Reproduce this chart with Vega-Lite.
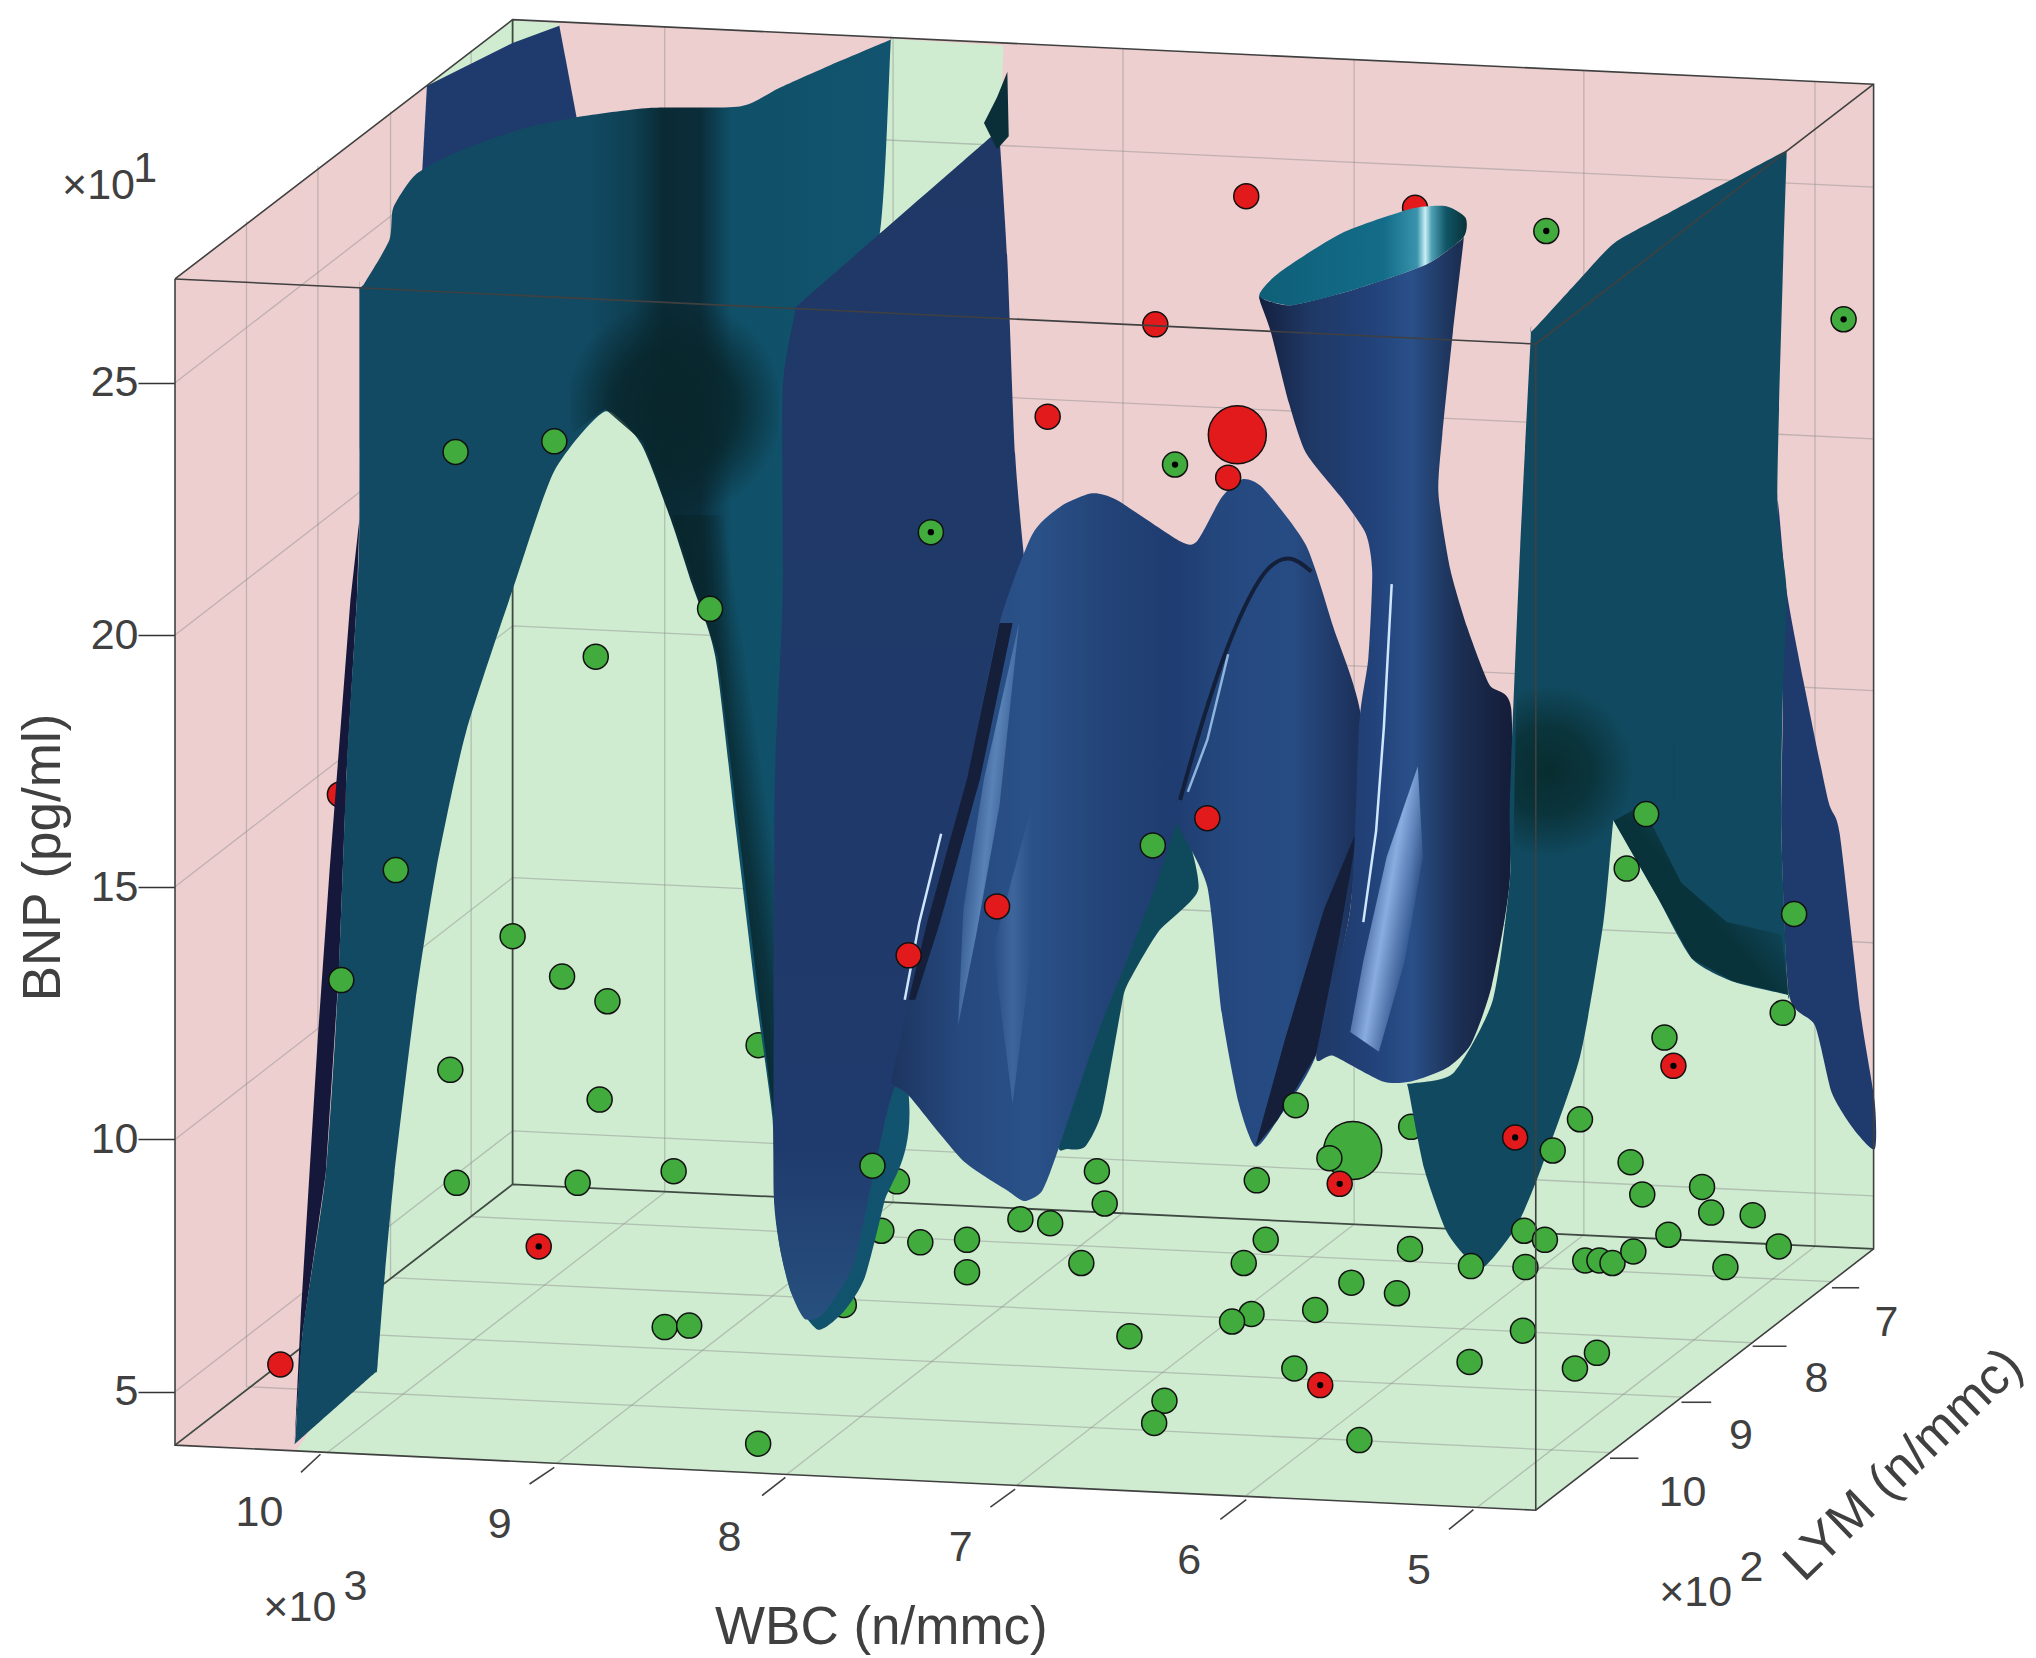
{"$schema":"https://vega.github.io/schema/vega-lite/v6.json","width":1861,"height":1658,"padding":{"left":175,"top":0,"right":0,"bottom":0},"autosize":"none","background":"white","view":{"stroke":null},"config":{"font":"Liberation Sans"},
"datasets":{
"surface":[
{"part":"pink","wbc":10.567,"bnp":27.06},{"part":"pink","wbc":9.093,"bnp":32.2},{"part":"pink","wbc":3.151,"bnp":30.92},{"part":"pink","wbc":3.151,"bnp":7.83},{"part":"pink","wbc":4.626,"bnp":2.65},{"part":"pink","wbc":10.567,"bnp":3.94},
{"part":"floor","wbc":10.04,"bnp":3.81},{"part":"floor","wbc":4.626,"bnp":2.65},{"part":"floor","wbc":3.151,"bnp":7.83},{"part":"floor","wbc":3.151,"bnp":9.94},{"part":"floor","wbc":3.395,"bnp":12.77},{"part":"floor","wbc":3.792,"bnp":13.8},{"part":"floor","wbc":4.132,"bnp":15.34},{"part":"floor","wbc":4.302,"bnp":16.89},{"part":"floor","wbc":4.727,"bnp":15.86},{"part":"floor","wbc":5.096,"bnp":16.63},{"part":"floor","wbc":5.379,"bnp":17.15},{"part":"floor","wbc":5.89,"bnp":18.18},{"part":"floor","wbc":6.797,"bnp":18.18},{"part":"floor","wbc":7.704,"bnp":17.15},{"part":"floor","wbc":8.271,"bnp":22.29},{"part":"floor","wbc":8.69,"bnp":24.87},{"part":"floor","wbc":9.064,"bnp":22.29},{"part":"floor","wbc":9.461,"bnp":17.15},{"part":"floor","wbc":9.631,"bnp":12.0},{"part":"floor","wbc":9.745,"bnp":5.82},
{"part":"topmid","wbc":7.443,"bnp":31.82},{"part":"topmid","wbc":6.95,"bnp":31.69},{"part":"topmid","wbc":6.967,"bnp":29.5},{"part":"topmid","wbc":7.5,"bnp":27.44},
{"part":"topleft","wbc":9.467,"bnp":30.89},{"part":"topleft","wbc":9.093,"bnp":32.2},{"part":"topleft","wbc":8.889,"bnp":32.13},{"part":"topleft","wbc":8.951,"bnp":31.56},{"part":"topleft","wbc":9.405,"bnp":30.79},
{"part":"navyback","wbc":9.467,"bnp":30.89},{"part":"navyback","wbc":9.093,"bnp":31.74},{"part":"navyback","wbc":8.889,"bnp":32.08},{"part":"navyback","wbc":8.809,"bnp":30.15},{"part":"navyback","wbc":8.809,"bnp":29.24},{"part":"navyback","wbc":9.49,"bnp":28.09},{"part":"navyback","wbc":9.49,"bnp":29.0},
{"part":"sliver","wbc":9.762,"bnp":22.29},{"part":"sliver","wbc":9.801,"bnp":20.7},{"part":"sliver","wbc":9.892,"bnp":15.34},{"part":"sliver","wbc":9.943,"bnp":12.05},{"part":"sliver","wbc":10.017,"bnp":6.59},{"part":"sliver","wbc":10.045,"bnp":3.97},{"part":"sliver","wbc":10.011,"bnp":6.13},{"part":"sliver","wbc":9.909,"bnp":9.32},{"part":"sliver","wbc":9.852,"bnp":13.31},{"part":"sliver","wbc":9.818,"bnp":17.27},{"part":"sliver","wbc":9.773,"bnp":20.7},
{"part":"teal","wbc":9.762,"bnp":26.78},{"part":"teal","wbc":9.762,"bnp":26.88},{"part":"teal","wbc":9.739,"bnp":26.98},{"part":"teal","wbc":9.631,"bnp":27.83},{"part":"teal","wbc":9.614,"bnp":28.47},{"part":"teal","wbc":9.518,"bnp":29.12},{"part":"teal","wbc":9.348,"bnp":29.55},{"part":"teal","wbc":9.064,"bnp":30.02},{"part":"teal","wbc":8.809,"bnp":30.27},{"part":"teal","wbc":8.497,"bnp":30.45},{"part":"teal","wbc":8.101,"bnp":30.48},{"part":"teal","wbc":7.931,"bnp":30.84},{"part":"teal","wbc":7.704,"bnp":31.3},{"part":"teal","wbc":7.454,"bnp":31.78},{"part":"teal","wbc":7.443,"bnp":31.82},{"part":"teal","wbc":7.443,"bnp":31.69},{"part":"teal","wbc":7.494,"bnp":27.83},{"part":"teal","wbc":7.704,"bnp":25.9},{"part":"teal","wbc":7.704,"bnp":20.75},{"part":"teal","wbc":7.364,"bnp":10.89},{"part":"teal","wbc":7.471,"bnp":8.75},{"part":"teal","wbc":7.556,"bnp":7.26},{"part":"teal","wbc":7.647,"bnp":6.59},{"part":"teal","wbc":7.761,"bnp":6.23},{"part":"teal","wbc":7.874,"bnp":6.93},{"part":"teal","wbc":7.925,"bnp":7.83},{"part":"teal","wbc":7.948,"bnp":8.75},{"part":"teal","wbc":7.959,"bnp":10.45},{"part":"teal","wbc":8.027,"bnp":12.72},{"part":"teal","wbc":8.118,"bnp":16.14},{"part":"teal","wbc":8.208,"bnp":19.57},{"part":"teal","wbc":8.31,"bnp":21.01},{"part":"teal","wbc":8.407,"bnp":22.35},{"part":"teal","wbc":8.532,"bnp":23.79},{"part":"teal","wbc":8.69,"bnp":24.43},{"part":"teal","wbc":8.911,"bnp":23.25},{"part":"teal","wbc":9.081,"bnp":21.06},{"part":"teal","wbc":9.297,"bnp":18.07},{"part":"teal","wbc":9.427,"bnp":15.34},{"part":"teal","wbc":9.518,"bnp":12.72},{"part":"teal","wbc":9.609,"bnp":9.32},{"part":"teal","wbc":9.654,"bnp":7.16},{"part":"teal","wbc":9.682,"bnp":5.56},{"part":"teal","wbc":9.688,"bnp":5.38},{"part":"teal","wbc":9.705,"bnp":5.33},{"part":"teal","wbc":10.017,"bnp":4.07},{"part":"teal","wbc":10.045,"bnp":3.97},{"part":"teal","wbc":10.04,"bnp":4.15},{"part":"teal","wbc":10.011,"bnp":6.13},{"part":"teal","wbc":9.909,"bnp":9.32},{"part":"teal","wbc":9.852,"bnp":13.31},{"part":"teal","wbc":9.818,"bnp":17.27},{"part":"teal","wbc":9.773,"bnp":20.7},{"part":"teal","wbc":9.762,"bnp":22.29},
{"part":"archdark","wbc":8.838,"bnp":26.67},{"part":"archdark","wbc":7.931,"bnp":26.67},{"part":"archdark","wbc":7.931,"bnp":22.35},{"part":"archdark","wbc":8.397,"bnp":22.38},{"part":"archdark","wbc":8.524,"bnp":23.83},{"part":"archdark","wbc":8.69,"bnp":24.48},{"part":"archdark","wbc":8.838,"bnp":23.97},
{"part":"archstrip","wbc":8.397,"bnp":22.38},{"part":"archstrip","wbc":7.987,"bnp":22.38},{"part":"archstrip","wbc":7.862,"bnp":10.45},{"part":"archstrip","wbc":7.948,"bnp":8.75},{"part":"archstrip","wbc":7.953,"bnp":10.45},{"part":"archstrip","wbc":8.016,"bnp":12.72},{"part":"archstrip","wbc":8.106,"bnp":16.14},{"part":"archstrip","wbc":8.197,"bnp":19.57},{"part":"archstrip","wbc":8.299,"bnp":21.01},
{"part":"navy","wbc":7.862,"bnp":26.36},{"part":"navy","wbc":7.862,"bnp":26.49},{"part":"navy","wbc":7.828,"bnp":26.62},{"part":"navy","wbc":6.989,"bnp":29.94},{"part":"navy","wbc":6.967,"bnp":30.02},{"part":"navy","wbc":6.967,"bnp":29.89},{"part":"navy","wbc":6.933,"bnp":27.44},{"part":"navy","wbc":6.899,"bnp":23.58},{"part":"navy","wbc":6.853,"bnp":21.26},{"part":"navy","wbc":6.797,"bnp":19.72},{"part":"navy","wbc":6.91,"bnp":15.86},{"part":"navy","wbc":7.25,"bnp":12.0},{"part":"navy","wbc":7.426,"bnp":11.02},{"part":"navy","wbc":7.517,"bnp":9.32},{"part":"navy","wbc":7.607,"bnp":7.49},{"part":"navy","wbc":7.738,"bnp":6.54},{"part":"navy","wbc":7.817,"bnp":6.44},{"part":"navy","wbc":7.874,"bnp":6.93},{"part":"navy","wbc":7.925,"bnp":7.83},{"part":"navy","wbc":7.953,"bnp":8.91},{"part":"navy","wbc":7.953,"bnp":12.0},{"part":"navy","wbc":7.948,"bnp":17.15},{"part":"navy","wbc":7.914,"bnp":20.75},{"part":"navy","wbc":7.914,"bnp":24.87},
{"part":"spot","wbc":7.035,"bnp":30.15},{"part":"spot","wbc":6.978,"bnp":30.66},{"part":"spot","wbc":6.933,"bnp":31.17},{"part":"spot","wbc":6.927,"bnp":29.89},{"part":"spot","wbc":6.978,"bnp":29.63},
{"part":"patch","wbc":6.672,"bnp":9.81},{"part":"patch","wbc":6.593,"bnp":9.86},{"part":"patch","wbc":6.519,"bnp":10.56},{"part":"patch","wbc":6.44,"bnp":12.51},{"part":"patch","wbc":6.411,"bnp":13.05},{"part":"patch","wbc":6.275,"bnp":14.11},{"part":"patch","wbc":6.099,"bnp":14.96},{"part":"patch","wbc":6.179,"bnp":16.32},{"part":"patch","wbc":6.343,"bnp":15.6},{"part":"patch","wbc":6.547,"bnp":12.26},{"part":"patch","wbc":6.706,"bnp":9.94},
{"part":"blue","wbc":7.409,"bnp":11.02},{"part":"blue","wbc":7.437,"bnp":11.1},{"part":"blue","wbc":7.437,"bnp":11.23},{"part":"blue","wbc":7.409,"bnp":11.82},{"part":"blue","wbc":7.284,"bnp":14.29},{"part":"blue","wbc":7.109,"bnp":17.15},{"part":"blue","wbc":6.967,"bnp":20.24},{"part":"blue","wbc":6.825,"bnp":21.99},{"part":"blue","wbc":6.7,"bnp":22.55},{"part":"blue","wbc":6.564,"bnp":22.81},{"part":"blue","wbc":6.457,"bnp":22.68},{"part":"blue","wbc":6.179,"bnp":21.86},{"part":"blue","wbc":6.105,"bnp":21.86},{"part":"blue","wbc":5.997,"bnp":22.73},{"part":"blue","wbc":5.907,"bnp":23.09},{"part":"blue","wbc":5.816,"bnp":22.91},{"part":"blue","wbc":5.629,"bnp":21.78},{"part":"blue","wbc":5.51,"bnp":20.16},{"part":"blue","wbc":5.385,"bnp":18.23},{"part":"blue","wbc":5.436,"bnp":14.57},{"part":"blue","wbc":5.584,"bnp":11.69},{"part":"blue","wbc":5.754,"bnp":10.38},{"part":"blue","wbc":5.85,"bnp":9.86},{"part":"blue","wbc":5.924,"bnp":10.74},{"part":"blue","wbc":5.997,"bnp":12.51},{"part":"blue","wbc":6.06,"bnp":15.01},{"part":"blue","wbc":6.185,"bnp":16.19},{"part":"blue","wbc":6.196,"bnp":16.32},{"part":"blue","wbc":6.202,"bnp":16.19},{"part":"blue","wbc":6.275,"bnp":15.16},{"part":"blue","wbc":6.394,"bnp":13.75},{"part":"blue","wbc":6.547,"bnp":12.0},{"part":"blue","wbc":6.706,"bnp":9.86},{"part":"blue","wbc":6.78,"bnp":8.99},{"part":"blue","wbc":6.859,"bnp":8.78},{"part":"blue","wbc":6.933,"bnp":8.99},{"part":"blue","wbc":7.131,"bnp":9.6},{"part":"blue","wbc":7.358,"bnp":10.84},
{"part":"fold1","wbc":6.967,"bnp":20.24},{"part":"fold1","wbc":7.109,"bnp":17.15},{"part":"fold1","wbc":7.284,"bnp":14.29},{"part":"fold1","wbc":7.364,"bnp":12.77},{"part":"fold1","wbc":7.335,"bnp":12.77},{"part":"fold1","wbc":7.228,"bnp":14.29},{"part":"fold1","wbc":7.052,"bnp":17.15},{"part":"fold1","wbc":6.91,"bnp":20.24},
{"part":"glow1","wbc":6.882,"bnp":20.24},{"part":"glow1","wbc":6.967,"bnp":16.63},{"part":"glow1","wbc":7.069,"bnp":14.06},{"part":"glow1","wbc":7.148,"bnp":12.26},{"part":"glow1","wbc":7.125,"bnp":14.57},{"part":"glow1","wbc":7.035,"bnp":17.15},
{"part":"glow3","wbc":6.825,"bnp":16.63},{"part":"glow3","wbc":6.825,"bnp":13.8},{"part":"glow3","wbc":6.91,"bnp":10.71},{"part":"glow3","wbc":6.995,"bnp":13.8},
{"part":"fold2","wbc":5.385,"bnp":18.23},{"part":"fold2","wbc":5.408,"bnp":16.12},{"part":"fold2","wbc":5.55,"bnp":14.57},{"part":"fold2","wbc":5.72,"bnp":12.0},{"part":"fold2","wbc":5.85,"bnp":9.86},{"part":"fold2","wbc":5.754,"bnp":10.38},{"part":"fold2","wbc":5.584,"bnp":11.69},{"part":"fold2","wbc":5.482,"bnp":14.06},{"part":"fold2","wbc":5.385,"bnp":16.63},
{"part":"funnel","wbc":5.828,"bnp":26.59},{"part":"funnel","wbc":5.833,"bnp":26.72},{"part":"funnel","wbc":5.805,"bnp":26.64},{"part":"funnel","wbc":5.691,"bnp":26.54},{"part":"funnel","wbc":5.419,"bnp":26.85},{"part":"funnel","wbc":5.107,"bnp":27.34},{"part":"funnel","wbc":4.96,"bnp":27.8},{"part":"funnel","wbc":4.943,"bnp":27.88},{"part":"funnel","wbc":4.943,"bnp":27.75},{"part":"funnel","wbc":4.988,"bnp":26.0},{"part":"funnel","wbc":5.034,"bnp":23.97},{"part":"funnel","wbc":5.051,"bnp":22.81},{"part":"funnel","wbc":5.0,"bnp":21.32},{"part":"funnel","wbc":4.926,"bnp":20.16},{"part":"funnel","wbc":4.829,"bnp":19.02},{"part":"funnel","wbc":4.733,"bnp":18.54},{"part":"funnel","wbc":4.739,"bnp":15.16},{"part":"funnel","wbc":4.818,"bnp":13.05},{"part":"funnel","wbc":4.909,"bnp":11.89},{"part":"funnel","wbc":5.017,"bnp":11.41},{"part":"funnel","wbc":5.17,"bnp":11.15},{"part":"funnel","wbc":5.294,"bnp":11.15},{"part":"funnel","wbc":5.51,"bnp":11.66},{"part":"funnel","wbc":5.584,"bnp":11.69},{"part":"funnel","wbc":5.436,"bnp":14.57},{"part":"funnel","wbc":5.397,"bnp":18.23},{"part":"funnel","wbc":5.357,"bnp":19.54},{"part":"funnel","wbc":5.34,"bnp":21.24},{"part":"funnel","wbc":5.368,"bnp":22.01},{"part":"funnel","wbc":5.476,"bnp":22.73},{"part":"funnel","wbc":5.629,"bnp":23.61},{"part":"funnel","wbc":5.703,"bnp":24.59},{"part":"funnel","wbc":5.782,"bnp":26.0},
{"part":"glow2","wbc":5.141,"bnp":17.4},{"part":"glow2","wbc":5.119,"bnp":15.6},{"part":"glow2","wbc":5.198,"bnp":13.54},{"part":"glow2","wbc":5.311,"bnp":11.74},{"part":"glow2","wbc":5.436,"bnp":12.13},{"part":"glow2","wbc":5.379,"bnp":13.54},{"part":"glow2","wbc":5.277,"bnp":15.6},
{"part":"rim","wbc":5.833,"bnp":26.72},{"part":"rim","wbc":5.748,"bnp":27.18},{"part":"rim","wbc":5.476,"bnp":27.96},{"part":"rim","wbc":5.17,"bnp":28.45},{"part":"rim","wbc":5.017,"bnp":28.5},{"part":"rim","wbc":4.932,"bnp":28.27},{"part":"rim","wbc":4.943,"bnp":27.88},{"part":"rim","wbc":5.107,"bnp":27.34},{"part":"rim","wbc":5.419,"bnp":26.85},{"part":"rim","wbc":5.691,"bnp":26.54},
{"part":"navyright","wbc":3.571,"bnp":22.65},{"part":"navyright","wbc":3.531,"bnp":20.88},{"part":"navyright","wbc":3.458,"bnp":19.1},{"part":"navyright","wbc":3.35,"bnp":16.73},{"part":"navyright","wbc":3.299,"bnp":16.06},{"part":"navyright","wbc":3.208,"bnp":12.51},{"part":"navyright","wbc":3.146,"bnp":10.74},{"part":"navyright","wbc":3.146,"bnp":9.81},{"part":"navyright","wbc":3.237,"bnp":10.2},{"part":"navyright","wbc":3.333,"bnp":10.92},{"part":"navyright","wbc":3.407,"bnp":12.26},{"part":"navyright","wbc":3.52,"bnp":12.87},{"part":"navyright","wbc":3.554,"bnp":16.12},{"part":"navyright","wbc":3.548,"bnp":18.72},
{"part":"tealright","wbc":4.648,"bnp":25.9},{"part":"tealright","wbc":4.648,"bnp":26.0},{"part":"tealright","wbc":4.626,"bnp":26.1},{"part":"tealright","wbc":4.433,"bnp":27.06},{"part":"tealright","wbc":4.28,"bnp":27.78},{"part":"tealright","wbc":4.036,"bnp":28.39},{"part":"tealright","wbc":3.543,"bnp":29.58},{"part":"tealright","wbc":3.531,"bnp":29.6},{"part":"tealright","wbc":3.531,"bnp":29.48},{"part":"tealright","wbc":3.548,"bnp":27.06},{"part":"tealright","wbc":3.571,"bnp":22.65},{"part":"tealright","wbc":3.531,"bnp":20.88},{"part":"tealright","wbc":3.548,"bnp":18.72},{"part":"tealright","wbc":3.554,"bnp":16.12},{"part":"tealright","wbc":3.526,"bnp":12.98},{"part":"tealright","wbc":3.52,"bnp":12.87},{"part":"tealright","wbc":3.548,"bnp":12.89},{"part":"tealright","wbc":3.764,"bnp":13.13},{"part":"tealright","wbc":3.945,"bnp":13.59},{"part":"tealright","wbc":4.098,"bnp":14.83},{"part":"tealright","wbc":4.274,"bnp":16.22},{"part":"tealright","wbc":4.285,"bnp":16.32},{"part":"tealright","wbc":4.291,"bnp":16.17},{"part":"tealright","wbc":4.331,"bnp":14.29},{"part":"tealright","wbc":4.433,"bnp":11.64},{"part":"tealright","wbc":4.603,"bnp":9.42},{"part":"tealright","wbc":4.711,"bnp":8.27},{"part":"tealright","wbc":4.852,"bnp":7.47},{"part":"tealright","wbc":4.926,"bnp":7.65},{"part":"tealright","wbc":5.017,"bnp":8.19},{"part":"tealright","wbc":5.113,"bnp":9.42},{"part":"tealright","wbc":5.181,"bnp":10.97},{"part":"tealright","wbc":5.187,"bnp":11.1},{"part":"tealright","wbc":5.153,"bnp":11.12},{"part":"tealright","wbc":4.983,"bnp":11.33},{"part":"tealright","wbc":4.813,"bnp":12.77},{"part":"tealright","wbc":4.739,"bnp":15.16},{"part":"tealright","wbc":4.739,"bnp":16.73},{"part":"tealright","wbc":4.694,"bnp":21.75},
{"part":"rightdark","wbc":4.71,"bnp":18.95},{"part":"rightdark","wbc":4.019,"bnp":18.95},{"part":"rightdark","wbc":4.019,"bnp":14.83},{"part":"rightdark","wbc":4.285,"bnp":16.32},{"part":"rightdark","wbc":4.331,"bnp":15.09},{"part":"rightdark","wbc":4.727,"bnp":15.09},
{"part":"rightstrip","wbc":4.285,"bnp":16.32},{"part":"rightstrip","wbc":4.098,"bnp":14.83},{"part":"rightstrip","wbc":3.945,"bnp":13.59},{"part":"rightstrip","wbc":3.764,"bnp":13.13},{"part":"rightstrip","wbc":3.52,"bnp":12.87},{"part":"rightstrip","wbc":3.554,"bnp":14.06},{"part":"rightstrip","wbc":3.792,"bnp":14.31},{"part":"rightstrip","wbc":3.991,"bnp":15.09},{"part":"rightstrip","wbc":4.161,"bnp":16.63}
],
"lines":[
{"id":"w10","kind":"grid","wbc":9.903,"bnp":3.79},{"id":"w10","kind":"grid","wbc":8.429,"bnp":8.95},{"id":"w10","kind":"grid","wbc":8.429,"bnp":32.05},
{"id":"w9","kind":"grid","wbc":8.9,"bnp":3.58},{"id":"w9","kind":"grid","wbc":7.432,"bnp":8.75},{"id":"w9","kind":"grid","wbc":7.432,"bnp":31.84},
{"id":"w8","kind":"grid","wbc":7.897,"bnp":3.36},{"id":"w8","kind":"grid","wbc":6.428,"bnp":8.55},{"id":"w8","kind":"grid","wbc":6.428,"bnp":31.64},
{"id":"w7","kind":"grid","wbc":6.893,"bnp":3.14},{"id":"w7","kind":"grid","wbc":5.419,"bnp":8.32},{"id":"w7","kind":"grid","wbc":5.419,"bnp":31.41},
{"id":"w6","kind":"grid","wbc":5.89,"bnp":2.94},{"id":"w6","kind":"grid","wbc":4.416,"bnp":8.11},{"id":"w6","kind":"grid","wbc":4.416,"bnp":31.2},
{"id":"w5","kind":"grid","wbc":4.881,"bnp":2.71},{"id":"w5","kind":"grid","wbc":3.407,"bnp":7.88},{"id":"w5","kind":"grid","wbc":3.407,"bnp":30.97},
{"id":"l10","kind":"grid","wbc":4.302,"bnp":3.79},{"id":"l10","kind":"grid","wbc":10.255,"bnp":5.1},{"id":"l10","kind":"grid","wbc":10.255,"bnp":28.21},
{"id":"l9","kind":"grid","wbc":3.99,"bnp":4.89},{"id":"l9","kind":"grid","wbc":9.943,"bnp":6.18},{"id":"l9","kind":"grid","wbc":9.943,"bnp":29.3},
{"id":"l8","kind":"grid","wbc":3.679,"bnp":5.97},{"id":"l8","kind":"grid","wbc":9.626,"bnp":7.26},{"id":"l8","kind":"grid","wbc":9.626,"bnp":30.38},
{"id":"l7","kind":"grid","wbc":3.333,"bnp":7.18},{"id":"l7","kind":"grid","wbc":9.274,"bnp":8.47},{"id":"l7","kind":"grid","wbc":9.274,"bnp":31.59},
{"id":"b5","kind":"grid","wbc":10.567,"bnp":5.0},{"id":"b5","kind":"grid","wbc":9.093,"bnp":10.17},{"id":"b5","kind":"grid","wbc":3.151,"bnp":8.88},
{"id":"b10","kind":"grid","wbc":10.567,"bnp":10.0},{"id":"b10","kind":"grid","wbc":9.093,"bnp":15.19},{"id":"b10","kind":"grid","wbc":3.151,"bnp":13.9},
{"id":"b15","kind":"grid","wbc":10.567,"bnp":15.01},{"id":"b15","kind":"grid","wbc":9.093,"bnp":20.18},{"id":"b15","kind":"grid","wbc":3.151,"bnp":18.9},
{"id":"b20","kind":"grid","wbc":10.567,"bnp":20.0},{"id":"b20","kind":"grid","wbc":9.093,"bnp":25.18},{"id":"b20","kind":"grid","wbc":3.151,"bnp":23.89},
{"id":"b25","kind":"grid","wbc":10.567,"bnp":25.0},{"id":"b25","kind":"grid","wbc":9.093,"bnp":30.17},{"id":"b25","kind":"grid","wbc":3.151,"bnp":28.88},
{"id":"e1","kind":"edgeback","wbc":9.093,"bnp":32.2},{"id":"e1","kind":"edgeback","wbc":9.093,"bnp":9.11},
{"id":"e2","kind":"edgeback","wbc":10.567,"bnp":3.94},{"id":"e2","kind":"edgeback","wbc":9.093,"bnp":9.11},{"id":"e2","kind":"edgeback","wbc":3.151,"bnp":7.83},
{"id":"f1","kind":"edge","wbc":10.567,"bnp":27.06},{"id":"f1","kind":"edge","wbc":4.626,"bnp":25.77},{"id":"f1","kind":"edge","wbc":4.626,"bnp":2.65},
{"id":"f2","kind":"edge","wbc":10.567,"bnp":27.06},{"id":"f2","kind":"edge","wbc":10.567,"bnp":3.94},{"id":"f2","kind":"edge","wbc":4.626,"bnp":2.65},{"id":"f2","kind":"edge","wbc":3.151,"bnp":7.83},{"id":"f2","kind":"edge","wbc":3.151,"bnp":30.92},{"id":"f2","kind":"edge","wbc":9.093,"bnp":32.2},{"id":"f2","kind":"edge","wbc":10.567,"bnp":27.06},
{"id":"f3","kind":"edge","wbc":4.626,"bnp":25.77},{"id":"f3","kind":"edge","wbc":3.151,"bnp":30.92},
{"id":"t1","kind":"edge","wbc":9.932,"bnp":3.76},{"id":"t1","kind":"edge","wbc":10.017,"bnp":3.4},
{"id":"t2","kind":"edge","wbc":8.911,"bnp":3.5},{"id":"t2","kind":"edge","wbc":9.019,"bnp":3.17},
{"id":"t3","kind":"edge","wbc":7.902,"bnp":3.3},{"id":"t3","kind":"edge","wbc":8.004,"bnp":2.94},
{"id":"t4","kind":"edge","wbc":6.899,"bnp":3.07},{"id":"t4","kind":"edge","wbc":7.007,"bnp":2.71},
{"id":"t5","kind":"edge","wbc":5.89,"bnp":2.86},{"id":"t5","kind":"edge","wbc":6.003,"bnp":2.47},
{"id":"t6","kind":"edge","wbc":4.898,"bnp":2.66},{"id":"t6","kind":"edge","wbc":5.005,"bnp":2.27},
{"id":"t7","kind":"edge","wbc":4.302,"bnp":3.68},{"id":"t7","kind":"edge","wbc":4.178,"bnp":3.68},
{"id":"t8","kind":"edge","wbc":3.99,"bnp":4.79},{"id":"t8","kind":"edge","wbc":3.86,"bnp":4.79},
{"id":"t9","kind":"edge","wbc":3.679,"bnp":5.9},{"id":"t9","kind":"edge","wbc":3.531,"bnp":5.9},
{"id":"t10","kind":"edge","wbc":3.333,"bnp":7.06},{"id":"t10","kind":"edge","wbc":3.214,"bnp":7.06},
{"id":"w1","kind":"whitestreak","wbc":7.222,"bnp":16.06},{"id":"w1","kind":"whitestreak","wbc":7.318,"bnp":14.29},{"id":"w1","kind":"whitestreak","wbc":7.381,"bnp":12.77},
{"id":"w2","kind":"whitestreak","wbc":5.255,"bnp":21.01},{"id":"w2","kind":"whitestreak","wbc":5.289,"bnp":18.18},{"id":"w2","kind":"whitestreak","wbc":5.323,"bnp":16.12},{"id":"w2","kind":"whitestreak","wbc":5.379,"bnp":14.31},
{"id":"w3","kind":"lightstreak","wbc":5.969,"bnp":19.62},{"id":"w3","kind":"lightstreak","wbc":6.06,"bnp":17.92},{"id":"w3","kind":"lightstreak","wbc":6.145,"bnp":16.89},
{"id":"d1","kind":"darkfold","wbc":6.179,"bnp":16.73},{"id":"d1","kind":"darkfold","wbc":6.088,"bnp":18.18},{"id":"d1","kind":"darkfold","wbc":5.975,"bnp":19.72},{"id":"d1","kind":"darkfold","wbc":5.89,"bnp":20.62},{"id":"d1","kind":"darkfold","wbc":5.805,"bnp":21.26},{"id":"d1","kind":"darkfold","wbc":5.708,"bnp":21.52},{"id":"d1","kind":"darkfold","wbc":5.606,"bnp":21.26}
],
"patients":[
{"wbc":5.153,"bnp":28.47,"risk":"high","depth":"back","weight":"normal","flag":"no"},{"wbc":9.847,"bnp":16.84,"risk":"high","depth":"back","weight":"normal","flag":"no"},{"wbc":4.342,"bnp":16.63,"risk":"high","depth":"back","weight":"normal","flag":"yes"},{"wbc":8.019,"bnp":11.87,"risk":"low","depth":"back","weight":"normal","flag":"no"},{"wbc":7.415,"bnp":9.17,"risk":"low","depth":"back","weight":"normal","flag":"no"},{"wbc":7.483,"bnp":8.19,"risk":"low","depth":"back","weight":"normal","flag":"no"},{"wbc":7.647,"bnp":6.72,"risk":"low","depth":"back","weight":"normal","flag":"no"},{"wbc":5.17,"bnp":10.25,"risk":"low","depth":"back","weight":"normal","flag":"no"},
{"wbc":5.89,"bnp":28.7,"risk":"high","depth":"front","weight":"normal","flag":"no"},{"wbc":6.287,"bnp":26.16,"risk":"high","depth":"front","weight":"normal","flag":"no"},{"wbc":6.757,"bnp":24.33,"risk":"high","depth":"front","weight":"normal","flag":"no"},{"wbc":5.969,"bnp":23.12,"risk":"high","depth":"front","weight":"normal","flag":"no"},{"wbc":5.929,"bnp":23.97,"risk":"high","depth":"front","weight":"large","flag":"no"},{"wbc":6.06,"bnp":16.37,"risk":"high","depth":"front","weight":"normal","flag":"no"},{"wbc":6.978,"bnp":14.62,"risk":"high","depth":"front","weight":"normal","flag":"no"},{"wbc":7.364,"bnp":13.65,"risk":"high","depth":"front","weight":"normal","flag":"no"},{"wbc":10.107,"bnp":5.54,"risk":"high","depth":"front","weight":"normal","flag":"no"},
{"wbc":7.267,"bnp":22.04,"risk":"low","depth":"front","weight":"normal","flag":"yes"},{"wbc":6.201,"bnp":23.38,"risk":"low","depth":"front","weight":"normal","flag":"yes"},{"wbc":4.58,"bnp":28.01,"risk":"low","depth":"front","weight":"normal","flag":"yes"},{"wbc":3.282,"bnp":26.26,"risk":"low","depth":"front","weight":"normal","flag":"yes"},
{"wbc":9.342,"bnp":23.63,"risk":"low","depth":"front","weight":"normal","flag":"no"},{"wbc":8.911,"bnp":23.84,"risk":"low","depth":"front","weight":"normal","flag":"no"},{"wbc":8.231,"bnp":20.52,"risk":"low","depth":"front","weight":"normal","flag":"no"},{"wbc":8.73,"bnp":19.57,"risk":"low","depth":"front","weight":"normal","flag":"no"},{"wbc":9.603,"bnp":15.34,"risk":"low","depth":"front","weight":"normal","flag":"no"},{"wbc":9.093,"bnp":14.03,"risk":"low","depth":"front","weight":"normal","flag":"no"},{"wbc":9.841,"bnp":13.16,"risk":"low","depth":"front","weight":"normal","flag":"no"},{"wbc":8.877,"bnp":13.23,"risk":"low","depth":"front","weight":"normal","flag":"no"},{"wbc":8.679,"bnp":12.74,"risk":"low","depth":"front","weight":"normal","flag":"no"},{"wbc":9.365,"bnp":11.38,"risk":"low","depth":"front","weight":"normal","flag":"no"},{"wbc":8.713,"bnp":10.79,"risk":"low","depth":"front","weight":"normal","flag":"no"},{"wbc":9.337,"bnp":9.14,"risk":"low","depth":"front","weight":"normal","flag":"no"},{"wbc":8.809,"bnp":9.14,"risk":"low","depth":"front","weight":"normal","flag":"no"},{"wbc":8.39,"bnp":9.37,"risk":"low","depth":"front","weight":"normal","flag":"no"},{"wbc":7.522,"bnp":9.48,"risk":"low","depth":"front","weight":"normal","flag":"no"},{"wbc":7.313,"bnp":7.96,"risk":"low","depth":"front","weight":"normal","flag":"no"},{"wbc":7.109,"bnp":8.01,"risk":"low","depth":"front","weight":"normal","flag":"no"},{"wbc":7.109,"bnp":7.37,"risk":"low","depth":"front","weight":"normal","flag":"no"},{"wbc":6.876,"bnp":8.42,"risk":"low","depth":"front","weight":"normal","flag":"no"},{"wbc":6.746,"bnp":8.34,"risk":"low","depth":"front","weight":"normal","flag":"no"},{"wbc":6.542,"bnp":9.37,"risk":"low","depth":"front","weight":"normal","flag":"no"},{"wbc":6.508,"bnp":8.73,"risk":"low","depth":"front","weight":"normal","flag":"no"},{"wbc":6.61,"bnp":7.55,"risk":"low","depth":"front","weight":"normal","flag":"no"},{"wbc":6.4,"bnp":6.1,"risk":"low","depth":"front","weight":"normal","flag":"no"},{"wbc":6.298,"bnp":15.83,"risk":"low","depth":"front","weight":"normal","flag":"no"},{"wbc":8.429,"bnp":6.28,"risk":"low","depth":"front","weight":"normal","flag":"no"},{"wbc":8.322,"bnp":6.31,"risk":"low","depth":"front","weight":"normal","flag":"no"},{"wbc":8.021,"bnp":3.97,"risk":"low","depth":"front","weight":"normal","flag":"no"},{"wbc":6.247,"bnp":4.82,"risk":"low","depth":"front","weight":"normal","flag":"no"},{"wbc":6.292,"bnp":4.38,"risk":"low","depth":"front","weight":"normal","flag":"no"},{"wbc":5.844,"bnp":9.19,"risk":"low","depth":"front","weight":"normal","flag":"no"},{"wbc":5.805,"bnp":8.01,"risk":"low","depth":"front","weight":"normal","flag":"no"},{"wbc":5.901,"bnp":7.55,"risk":"low","depth":"front","weight":"normal","flag":"no"},{"wbc":5.867,"bnp":6.54,"risk":"low","depth":"front","weight":"normal","flag":"no"},{"wbc":5.952,"bnp":6.39,"risk":"low","depth":"front","weight":"normal","flag":"no"},{"wbc":5.589,"bnp":6.62,"risk":"low","depth":"front","weight":"normal","flag":"no"},{"wbc":5.431,"bnp":7.16,"risk":"low","depth":"front","weight":"normal","flag":"no"},{"wbc":5.232,"bnp":6.95,"risk":"low","depth":"front","weight":"normal","flag":"no"},{"wbc":5.175,"bnp":7.83,"risk":"low","depth":"front","weight":"normal","flag":"no"},{"wbc":4.915,"bnp":5.59,"risk":"low","depth":"front","weight":"normal","flag":"no"},{"wbc":5.68,"bnp":5.46,"risk":"low","depth":"front","weight":"normal","flag":"no"},{"wbc":5.396,"bnp":4.04,"risk":"low","depth":"front","weight":"normal","flag":"no"},{"wbc":5.425,"bnp":9.78,"risk":"low","depth":"front","weight":"large","flag":"no"},{"wbc":5.527,"bnp":9.63,"risk":"low","depth":"front","weight":"normal","flag":"no"},{"wbc":5.674,"bnp":10.68,"risk":"low","depth":"front","weight":"normal","flag":"no"},{"wbc":4.909,"bnp":7.49,"risk":"low","depth":"front","weight":"normal","flag":"no"},{"wbc":4.677,"bnp":8.19,"risk":"low","depth":"front","weight":"normal","flag":"no"},{"wbc":4.586,"bnp":8.01,"risk":"low","depth":"front","weight":"normal","flag":"no"},{"wbc":4.671,"bnp":7.47,"risk":"low","depth":"front","weight":"normal","flag":"no"},{"wbc":4.682,"bnp":6.21,"risk":"low","depth":"front","weight":"normal","flag":"no"},{"wbc":4.41,"bnp":7.6,"risk":"low","depth":"front","weight":"normal","flag":"no"},{"wbc":4.348,"bnp":7.6,"risk":"low","depth":"front","weight":"normal","flag":"no"},{"wbc":4.291,"bnp":7.55,"risk":"low","depth":"front","weight":"normal","flag":"no"},{"wbc":4.2,"bnp":7.78,"risk":"low","depth":"front","weight":"normal","flag":"no"},{"wbc":4.047,"bnp":8.11,"risk":"low","depth":"front","weight":"normal","flag":"no"},{"wbc":4.359,"bnp":5.77,"risk":"low","depth":"front","weight":"normal","flag":"no"},{"wbc":4.455,"bnp":5.46,"risk":"low","depth":"front","weight":"normal","flag":"no"},{"wbc":3.798,"bnp":7.47,"risk":"low","depth":"front","weight":"normal","flag":"no"},{"wbc":3.565,"bnp":7.88,"risk":"low","depth":"front","weight":"normal","flag":"no"},{"wbc":3.679,"bnp":8.5,"risk":"low","depth":"front","weight":"normal","flag":"no"},{"wbc":3.86,"bnp":8.55,"risk":"low","depth":"front","weight":"normal","flag":"no"},{"wbc":3.9,"bnp":9.06,"risk":"low","depth":"front","weight":"normal","flag":"no"},{"wbc":4.161,"bnp":8.91,"risk":"low","depth":"front","weight":"normal","flag":"no"},{"wbc":4.212,"bnp":9.55,"risk":"low","depth":"front","weight":"normal","flag":"no"},{"wbc":4.433,"bnp":10.4,"risk":"low","depth":"front","weight":"normal","flag":"no"},{"wbc":4.552,"bnp":9.78,"risk":"low","depth":"front","weight":"normal","flag":"no"},{"wbc":4.064,"bnp":12.02,"risk":"low","depth":"front","weight":"normal","flag":"no"},{"wbc":3.548,"bnp":12.51,"risk":"low","depth":"front","weight":"normal","flag":"no"},{"wbc":3.498,"bnp":14.47,"risk":"low","depth":"front","weight":"normal","flag":"no"},{"wbc":4.144,"bnp":16.45,"risk":"low","depth":"front","weight":"normal","flag":"no"},{"wbc":4.229,"bnp":15.37,"risk":"low","depth":"front","weight":"normal","flag":"no"},
{"wbc":8.979,"bnp":7.88,"risk":"high","depth":"front","weight":"normal","flag":"yes"},{"wbc":5.482,"bnp":9.12,"risk":"high","depth":"front","weight":"normal","flag":"yes"},{"wbc":5.567,"bnp":5.13,"risk":"high","depth":"front","weight":"normal","flag":"yes"},{"wbc":4.716,"bnp":10.04,"risk":"high","depth":"front","weight":"normal","flag":"yes"},{"wbc":4.025,"bnp":11.46,"risk":"high","depth":"front","weight":"normal","flag":"yes"}
],
"labels":[
{"label":"10","role":"tick","wbc":10.198,"bnp":2.6},{"label":"9","role":"tick","wbc":9.149,"bnp":2.35},{"label":"8","role":"tick","wbc":8.146,"bnp":2.09},{"label":"7","role":"tick","wbc":7.137,"bnp":1.91},{"label":"6","role":"tick","wbc":6.139,"bnp":1.65},{"label":"5","role":"tick","wbc":5.136,"bnp":1.45},
{"label":"7","role":"tick","wbc":3.095,"bnp":6.36},{"label":"8","role":"tick","wbc":3.401,"bnp":5.25},{"label":"9","role":"tick","wbc":3.73,"bnp":4.12},{"label":"10","role":"tick","wbc":3.985,"bnp":2.99},
{"label":"×10","role":"tick","wbc":10.022,"bnp":0.72},{"label":"3","role":"tick","wbc":9.779,"bnp":1.12},
{"label":"×10","role":"tick","wbc":3.928,"bnp":1.01},{"label":"2","role":"tick","wbc":3.684,"bnp":1.5},
{"label":"×10","role":"tick","wbc":10.901,"bnp":28.91},{"label":"1","role":"tick","wbc":10.697,"bnp":29.24},
{"label":"WBC (n/mmc)","role":"xtitle","wbc":7.483,"bnp":0.31},
{"label":"LYM (n/mmc)","role":"ztitle","wbc":3.021,"bnp":3.55}
]
},
"encoding":{
"x":{"field":"wbc","type":"quantitative","scale":{"domain":[10.567,2.442],"nice":false,"zero":false},"axis":null},
"y":{"field":"bnp","type":"quantitative","scale":{"domain":[-0.28,32.59],"nice":false,"zero":false},"axis":{"values":[5,10,15,20,25],"grid":false,"domain":false,"tickSize":37,"tickColor":"#333333","tickWidth":1.5,"labelFontSize":43,"labelFont":"Liberation Sans","labelColor":"#404040","labelPadding":0,"title":"BNP (pg/ml)","titleFont":"Liberation Sans","titleFontSize":53,"titleFontWeight":"normal","titleColor":"#404040","titleX":-105,"titleY":857}}
},
"layer":[
{"data":{"name":"surface"},"transform":[{"filter":"datum.part=='pink'"},{"window":[{"op":"row_number","as":"seq"}]}],"mark":{"type":"line","fill":"#eecfcf","strokeWidth":0},"encoding":{"order":{"field":"seq","type":"quantitative"}}},
{"data":{"name":"surface"},"transform":[{"filter":"datum.part=='floor'||datum.part=='topmid'||datum.part=='topleft'"},{"window":[{"op":"row_number","as":"seq"}]}],"mark":{"type":"line","fill":"#cfebd0","strokeWidth":0},"encoding":{"order":{"field":"seq","type":"quantitative"},"detail":{"field":"part"}}},
{"data":{"name":"lines"},"transform":[{"filter":"datum.kind=='grid'"},{"window":[{"op":"row_number","as":"seq"}]}],"mark":{"type":"line","stroke":"#8c8c8c","strokeWidth":1.3,"opacity":0.45},"encoding":{"order":{"field":"seq","type":"quantitative"},"detail":{"field":"id"}}},
{"data":{"name":"lines"},"transform":[{"filter":"datum.kind=='edgeback'"},{"window":[{"op":"row_number","as":"seq"}]}],"mark":{"type":"line","stroke":"#3f4a42","strokeWidth":1.8},"encoding":{"order":{"field":"seq","type":"quantitative"},"detail":{"field":"id"}}},
{"data":{"name":"patients"},"transform":[{"filter":"datum.depth=='back'"}],"mark":{"type":"point","filled":true,"stroke":"#111111","strokeWidth":1.5,"opacity":1},"encoding":{"color":{"field":"risk","type":"nominal","scale":{"domain":["high","low"],"range":["#e31a1c","#41ab3e"]},"legend":null},"size":{"field":"weight","type":"nominal","scale":{"domain":["normal","large"],"range":[625,3364]},"legend":null}}},
{"data":{"name":"patients"},"transform":[{"filter":"datum.depth=='back'&&datum.flag=='yes'"}],"mark":{"type":"point","filled":true,"color":"#000000","size":40,"opacity":1}},
{"data":{"name":"surface"},"transform":[{"filter":"datum.part=='navyback'"},{"window":[{"op":"row_number","as":"seq"}]}],"mark":{"type":"line","fill":"#1f3a6d","strokeWidth":0},"encoding":{"order":{"field":"seq","type":"quantitative"}}},
{"data":{"name":"surface"},"transform":[{"filter":"datum.part=='sliver'"},{"window":[{"op":"row_number","as":"seq"}]}],"mark":{"type":"line","fill":"#15183a","strokeWidth":0},"encoding":{"order":{"field":"seq","type":"quantitative"}}},
{"data":{"name":"surface"},"transform":[{"filter":"datum.part=='teal'"},{"window":[{"op":"row_number","as":"seq"}]}],"mark":{"type":"line","interpolate":"cardinal-closed","tension":0.35,"strokeWidth":0,"fill":{"gradient":"linear","x1":0,"y1":0,"x2":1,"y2":0,"stops":[{"offset":0,"color":"#114a62"},{"offset":0.48,"color":"#114a62"},{"offset":0.55,"color":"#0f3f52"},{"offset":0.6,"color":"#0a2b35"},{"offset":0.66,"color":"#0b2d3a"},{"offset":0.71,"color":"#105068"},{"offset":1,"color":"#125470"}]}},"encoding":{"order":{"field":"seq","type":"quantitative"}}},
{"data":{"name":"surface"},"transform":[{"filter":"datum.part=='archdark'"},{"window":[{"op":"row_number","as":"seq"}]}],"mark":{"type":"line","strokeWidth":0,"fill":{"gradient":"radial","x1":0.5,"y1":0.5,"r1":0,"x2":0.5,"y2":0.5,"r2":0.5,"stops":[{"offset":0,"color":"rgba(8,38,44,1)"},{"offset":0.55,"color":"rgba(8,38,44,0.85)"},{"offset":1,"color":"rgba(8,38,44,0)"}]}},"encoding":{"order":{"field":"seq","type":"quantitative"}}},
{"data":{"name":"surface"},"transform":[{"filter":"datum.part=='archstrip'"},{"window":[{"op":"row_number","as":"seq"}]}],"mark":{"type":"line","strokeWidth":0,"fill":{"gradient":"linear","x1":0.42,"y1":0.5,"x2":0.67,"y2":0.29,"stops":[{"offset":0,"color":"rgba(8,38,44,1)"},{"offset":0.5,"color":"rgba(8,38,44,0.7)"},{"offset":1,"color":"rgba(8,38,44,0)"}]}},"encoding":{"order":{"field":"seq","type":"quantitative"}}},
{"data":{"name":"surface"},"transform":[{"filter":"datum.part=='navy'"},{"window":[{"op":"row_number","as":"seq"}]}],"mark":{"type":"line","interpolate":"cardinal-closed","tension":0.35,"strokeWidth":0,"fill":{"gradient":"linear","x1":0,"y1":0,"x2":0,"y2":1,"stops":[{"offset":0,"color":"#1f3866"},{"offset":0.85,"color":"#1f3a6c"},{"offset":1,"color":"#27507f"}]}},"encoding":{"order":{"field":"seq","type":"quantitative"}}},
{"data":{"name":"surface"},"transform":[{"filter":"datum.part=='spot'"},{"window":[{"op":"row_number","as":"seq"}]}],"mark":{"type":"line","fill":"#0a2f38","strokeWidth":0},"encoding":{"order":{"field":"seq","type":"quantitative"}}},
{"data":{"name":"surface"},"transform":[{"filter":"datum.part=='patch'"},{"window":[{"op":"row_number","as":"seq"}]}],"mark":{"type":"line","interpolate":"cardinal-closed","tension":0.35,"fill":"#0f4a5c","strokeWidth":0},"encoding":{"order":{"field":"seq","type":"quantitative"}}},
{"data":{"name":"surface"},"transform":[{"filter":"datum.part=='blue'"},{"window":[{"op":"row_number","as":"seq"}]}],"mark":{"type":"line","interpolate":"cardinal-closed","tension":0.35,"strokeWidth":0,"fill":{"gradient":"linear","x1":0,"y1":0,"x2":1,"y2":0,"stops":[{"offset":0,"color":"#1d3560"},{"offset":0.15,"color":"#26497f"},{"offset":0.3,"color":"#2a5289"},{"offset":0.45,"color":"#234478"},{"offset":0.6,"color":"#1f3c70"},{"offset":0.7,"color":"#24487e"},{"offset":0.85,"color":"#274c84"},{"offset":1,"color":"#1b2f58"}]}},"encoding":{"order":{"field":"seq","type":"quantitative"}}},
{"data":{"name":"surface"},"transform":[{"filter":"datum.part=='fold1'||datum.part=='fold2'"},{"window":[{"op":"row_number","as":"seq"}]}],"mark":{"type":"line","fill":"#151f3a","strokeWidth":0},"encoding":{"order":{"field":"seq","type":"quantitative"},"detail":{"field":"part"}}},
{"data":{"name":"surface"},"transform":[{"filter":"datum.part=='glow1'"},{"window":[{"op":"row_number","as":"seq"}]}],"mark":{"type":"line","strokeWidth":0,"fill":{"gradient":"linear","x1":0.2,"y1":0.3,"x2":0.8,"y2":0.7,"stops":[{"offset":0,"color":"rgba(106,148,200,0)"},{"offset":0.5,"color":"rgba(106,148,200,0.75)"},{"offset":1,"color":"rgba(106,148,200,0)"}]}},"encoding":{"order":{"field":"seq","type":"quantitative"}}},
{"data":{"name":"surface"},"transform":[{"filter":"datum.part=='glow3'"},{"window":[{"op":"row_number","as":"seq"}]}],"mark":{"type":"line","strokeWidth":0,"fill":{"gradient":"linear","x1":0,"y1":0,"x2":1,"y2":0,"stops":[{"offset":0,"color":"rgba(80,120,175,0)"},{"offset":0.5,"color":"rgba(80,120,175,0.55)"},{"offset":1,"color":"rgba(80,120,175,0)"}]}},"encoding":{"order":{"field":"seq","type":"quantitative"}}},
{"data":{"name":"lines"},"transform":[{"filter":"datum.kind=='darkfold'"},{"window":[{"op":"row_number","as":"seq"}]}],"mark":{"type":"line","interpolate":"monotone","stroke":"#14203a","strokeWidth":4},"encoding":{"order":{"field":"seq","type":"quantitative"},"detail":{"field":"id"}}},
{"data":{"name":"surface"},"transform":[{"filter":"datum.part=='funnel'"},{"window":[{"op":"row_number","as":"seq"}]}],"mark":{"type":"line","interpolate":"cardinal-closed","tension":0.35,"strokeWidth":0,"fill":{"gradient":"linear","x1":0,"y1":0,"x2":1,"y2":0,"stops":[{"offset":0,"color":"#14203f"},{"offset":0.2,"color":"#1f3865"},{"offset":0.45,"color":"#22427a"},{"offset":0.6,"color":"#2a5089"},{"offset":0.78,"color":"#1c3055"},{"offset":1,"color":"#141c38"}]}},"encoding":{"order":{"field":"seq","type":"quantitative"}}},
{"data":{"name":"surface"},"transform":[{"filter":"datum.part=='glow2'"},{"window":[{"op":"row_number","as":"seq"}]}],"mark":{"type":"line","strokeWidth":0,"fill":{"gradient":"linear","x1":0.2,"y1":0.3,"x2":0.8,"y2":0.7,"stops":[{"offset":0,"color":"rgba(143,178,230,0)"},{"offset":0.5,"color":"rgba(143,178,230,0.95)"},{"offset":1,"color":"rgba(143,178,230,0)"}]}},"encoding":{"order":{"field":"seq","type":"quantitative"}}},
{"data":{"name":"lines"},"transform":[{"filter":"datum.kind=='whitestreak'"},{"window":[{"op":"row_number","as":"seq"}]}],"mark":{"type":"line","stroke":"#cfe6ff","strokeWidth":2.5},"encoding":{"order":{"field":"seq","type":"quantitative"},"detail":{"field":"id"}}},
{"data":{"name":"lines"},"transform":[{"filter":"datum.kind=='lightstreak'"},{"window":[{"op":"row_number","as":"seq"}]}],"mark":{"type":"line","stroke":"#8fb4de","strokeWidth":2.5},"encoding":{"order":{"field":"seq","type":"quantitative"},"detail":{"field":"id"}}},
{"data":{"name":"surface"},"transform":[{"filter":"datum.part=='rim'"},{"window":[{"op":"row_number","as":"seq"}]}],"mark":{"type":"line","interpolate":"cardinal-closed","tension":0.35,"strokeWidth":0,"fill":{"gradient":"linear","x1":0,"y1":0,"x2":1,"y2":0,"stops":[{"offset":0,"color":"#0f5f78"},{"offset":0.6,"color":"#136c88"},{"offset":0.76,"color":"#3a93ac"},{"offset":0.8,"color":"#c9eff5"},{"offset":0.83,"color":"#4fa0b4"},{"offset":0.9,"color":"#0f5566"},{"offset":1,"color":"#093238"}]}},"encoding":{"order":{"field":"seq","type":"quantitative"}}},
{"data":{"name":"surface"},"transform":[{"filter":"datum.part=='navyright'"},{"window":[{"op":"row_number","as":"seq"}]}],"mark":{"type":"line","interpolate":"cardinal-closed","tension":0.35,"fill":"#1f3a6c","strokeWidth":0},"encoding":{"order":{"field":"seq","type":"quantitative"}}},
{"data":{"name":"surface"},"transform":[{"filter":"datum.part=='tealright'"},{"window":[{"op":"row_number","as":"seq"}]}],"mark":{"type":"line","interpolate":"cardinal-closed","tension":0.35,"fill":"#114a60","strokeWidth":0},"encoding":{"order":{"field":"seq","type":"quantitative"}}},
{"data":{"name":"surface"},"transform":[{"filter":"datum.part=='rightdark'"},{"window":[{"op":"row_number","as":"seq"}]}],"mark":{"type":"line","strokeWidth":0,"fill":{"gradient":"radial","x1":0.28,"y1":0.4,"r1":0,"x2":0.28,"y2":0.4,"r2":0.42,"stops":[{"offset":0,"color":"rgba(8,45,48,1)"},{"offset":0.5,"color":"rgba(8,45,48,0.75)"},{"offset":1,"color":"rgba(8,45,48,0)"}]}},"encoding":{"order":{"field":"seq","type":"quantitative"}}},
{"data":{"name":"surface"},"transform":[{"filter":"datum.part=='rightstrip'"},{"window":[{"op":"row_number","as":"seq"}]}],"mark":{"type":"line","strokeWidth":0,"fill":{"gradient":"linear","x1":0.5,"y1":0.54,"x2":0.75,"y2":0.31,"stops":[{"offset":0,"color":"rgba(8,48,54,0.9)"},{"offset":1,"color":"rgba(8,48,54,0)"}]}},"encoding":{"order":{"field":"seq","type":"quantitative"}}},
{"data":{"name":"patients"},"transform":[{"filter":"datum.depth=='front'"}],"mark":{"type":"point","filled":true,"stroke":"#111111","strokeWidth":1.5,"opacity":1},"encoding":{"color":{"field":"risk","type":"nominal","scale":{"domain":["high","low"],"range":["#e31a1c","#41ab3e"]},"legend":null},"size":{"field":"weight","type":"nominal","scale":{"domain":["normal","large"],"range":[625,3364]},"legend":null}}},
{"data":{"name":"patients"},"transform":[{"filter":"datum.depth=='front'&&datum.flag=='yes'"}],"mark":{"type":"point","filled":true,"color":"#000000","size":40,"opacity":1}},
{"data":{"name":"lines"},"transform":[{"filter":"datum.kind=='edge'"},{"window":[{"op":"row_number","as":"seq"}]}],"mark":{"type":"line","stroke":"#404040","strokeWidth":1.6,"clip":false},"encoding":{"order":{"field":"seq","type":"quantitative"},"detail":{"field":"id"}}},
{"data":{"name":"labels"},"transform":[{"filter":"datum.role=='tick'"}],"mark":{"type":"text","fontSize":43,"font":"Liberation Sans","color":"#404040","align":"center","baseline":"middle"},"encoding":{"text":{"field":"label"}}},
{"data":{"name":"labels"},"transform":[{"filter":"datum.role=='xtitle'"}],"mark":{"type":"text","fontSize":53,"font":"Liberation Sans","color":"#404040","align":"center","baseline":"middle"},"encoding":{"text":{"field":"label"}}},
{"data":{"name":"labels"},"transform":[{"filter":"datum.role=='ztitle'"}],"mark":{"type":"text","fontSize":52,"font":"Liberation Sans","color":"#404040","align":"center","baseline":"middle","angle":-44},"encoding":{"text":{"field":"label"}}}
]}
